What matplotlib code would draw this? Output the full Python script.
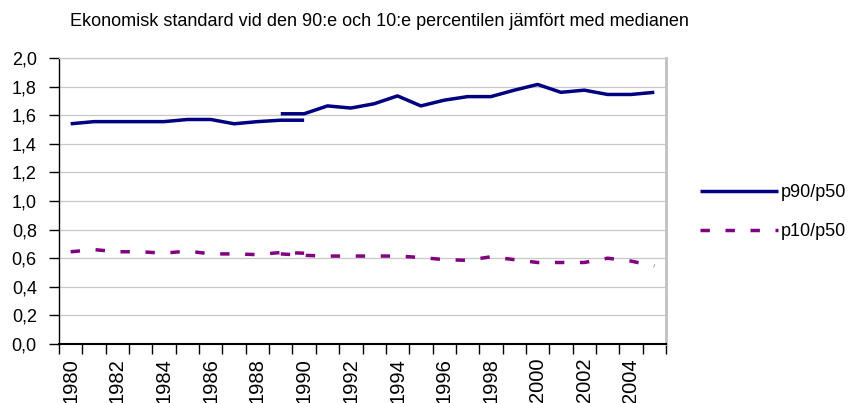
import matplotlib
matplotlib.use("Agg")
import matplotlib.pyplot as plt
from matplotlib.ticker import FuncFormatter, FixedLocator

plt.rcParams['font.family'] = ['Liberation Sans', 'DejaVu Sans']

# data
years_old = list(range(1980, 1991))
years_new = list(range(1989, 2006))
p90_old = [1.54, 1.555, 1.555, 1.555, 1.555, 1.57, 1.57, 1.54, 1.555, 1.565, 1.565]
p90_new = [1.61, 1.61, 1.665, 1.65, 1.68, 1.735, 1.665, 1.705, 1.73, 1.73, 1.775,
           1.815, 1.76, 1.775, 1.745, 1.745, 1.76]
p10_old = [0.645, 0.66, 0.645, 0.645, 0.635, 0.65, 0.63, 0.63, 0.625, 0.64, 0.635]
p10_new = [0.63, 0.62, 0.615, 0.615, 0.615, 0.615, 0.605, 0.59, 0.585, 0.61, 0.59,
           0.57, 0.57, 0.57, 0.60, 0.58, 0.545]
year_labels = list(range(1980, 2005, 2))

title = "Ekonomisk standard vid den 90:e och 10:e percentilen jämfört med medianen"
navy = "#000080"
purple = "#800080"

fig = plt.figure(figsize=(8.48, 4.03), dpi=100)
ax = fig.add_axes([59 / 848, 1 - 344 / 403, (666 - 59) / 848, (344 - 58) / 403])

lw = 2.5
dash = (0, (2.7, 4.5))
ax.plot(years_old, p90_old, color=navy, lw=lw, solid_capstyle='butt', label='_nolegend_')
ax.plot(years_new, p90_new, color=navy, lw=lw, solid_capstyle='butt', label='p90/p50')
ax.plot(years_old, p10_old, color=purple, lw=lw, linestyle=dash, dash_capstyle='butt',
        label='_nolegend_')
ax.plot(years_new, p10_new, color=purple, lw=lw, linestyle=dash, dash_capstyle='butt',
        label='p10/p50')

ax.set_xlim(1979.5, 2005.5)
ax.set_ylim(0, 2.0)
ax.set_yticks([i / 10 for i in range(0, 21, 2)])
ax.yaxis.set_major_formatter(FuncFormatter(lambda v, p: f"{v:.1f}".replace('.', ',')))
ax.grid(axis='y', color='#c8c8c8', lw=0.9)
ax.set_axisbelow(True)

ax.xaxis.set_major_locator(FixedLocator([1979.5 + k for k in range(27)]))
ax.xaxis.set_minor_locator(FixedLocator(year_labels))
ax.set_xticklabels([], minor=False)
ax.set_xticklabels([str(y) for y in year_labels], minor=True, rotation=90, va='top')
ax.tick_params(axis='x', which='major', length=7, width=1, direction='out')
ax.tick_params(axis='x', which='minor', length=0, pad=10, labelsize=14.5)
ax.tick_params(axis='y', length=7, width=1, direction='out', labelsize=13, pad=9)

for s in ('left', 'bottom'):
    ax.spines[s].set_color('black')
ax.spines['left'].set_linewidth(1)
ax.spines['bottom'].set_linewidth(1.5)
ax.spines['top'].set_color('#c8c8c8')
ax.spines['top'].set_linewidth(0.9)
ax.spines['right'].set_color('#c0c0c0')
ax.spines['right'].set_linewidth(2)

fig.text(379 / 848, 1 - 22 / 403, title, ha='center', va='center', fontsize=13)

ax.legend(loc='center left', bbox_to_anchor=(700 / 848, 1 - 212 / 403),
          bbox_transform=fig.transFigure, frameon=False, fontsize=13,
          handlelength=4.3, handletextpad=0.15, labelspacing=1.2,
          borderpad=0, borderaxespad=0)

fig.savefig("out.png", dpi=100)
